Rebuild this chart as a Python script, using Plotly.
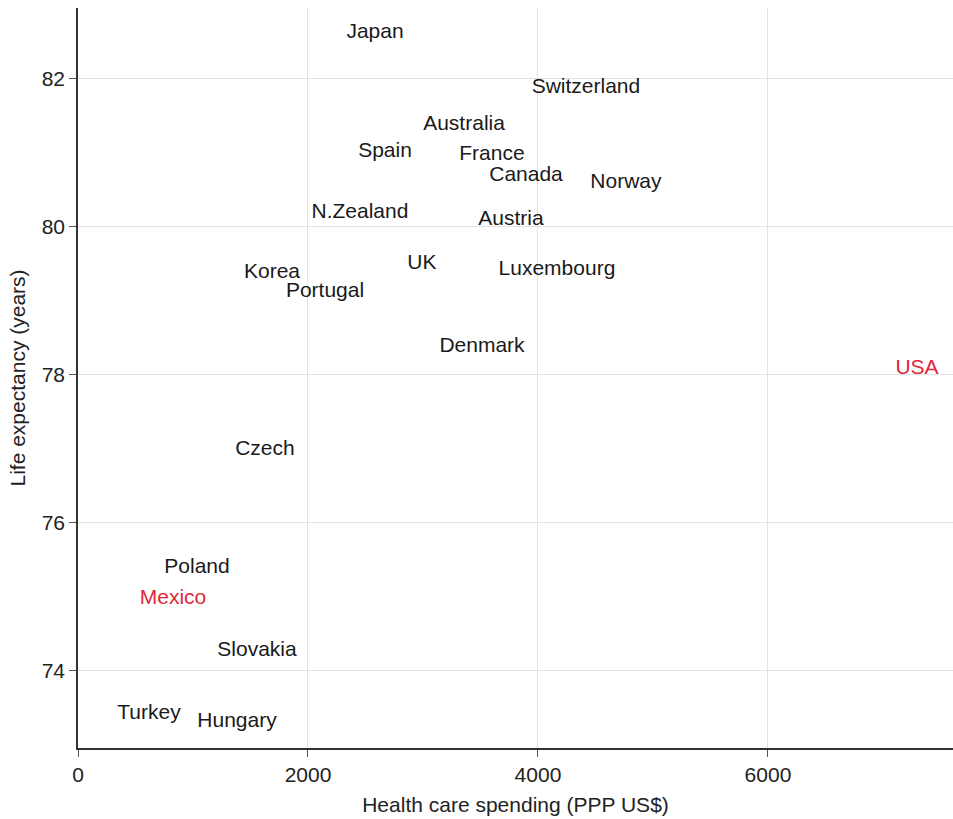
import plotly.graph_objects as go

countries = ["Japan", "Switzerland", "Australia", "Spain", "France", "Canada", "Norway",
             "N.Zealand", "Austria", "UK", "Luxembourg", "Korea", "Portugal", "Denmark",
             "USA", "Czech", "Poland", "Mexico", "Slovakia", "Turkey", "Hungary"]
spending = [2583, 4417, 3357, 2670, 3600, 3896, 4765,
            2452, 3765, 2991, 4165, 1687, 2148, 3513,
            7296, 1626, 1035, 826, 1557, 617, 1383]
life_exp = [82.61, 81.88, 81.38, 81.01, 80.97, 80.68, 80.59,
            80.18, 80.09, 79.50, 79.41, 79.38, 79.12, 78.38,
            78.08, 76.99, 75.39, 74.97, 74.27, 73.42, 73.32]
highlight = ["USA", "Mexico"]

FONT = "Liberation Sans, Arial, sans-serif"
colors = ["#e0283a" if c in highlight else "#1a1a1a" for c in countries]

fig = go.Figure(go.Scatter(
    x=spending, y=life_exp, text=countries, mode="text",
    textposition="middle center",
    textfont=dict(family=FONT, size=21, color=colors),
    hoverinfo="text", showlegend=False,
))

axis_common = dict(
    showgrid=True, gridcolor="#e3e3e3", gridwidth=1,
    showline=True, linecolor="#333333", linewidth=1.5,
    ticks="outside", ticklen=7, tickcolor="#555555",
    tickfont=dict(family=FONT, size=21, color="#222222"),
    zeroline=False,
)

fig.update_layout(
    width=953, height=819,
    margin=dict(l=78, r=0, t=8, b=71),
    paper_bgcolor="white", plot_bgcolor="white",
    font=dict(family=FONT, color="#222222"),
    xaxis=dict(range=[0, 7609], tickvals=[0, 2000, 4000, 6000],
               title=dict(text="Health care spending (PPP US$)", font=dict(size=21), standoff=12),
               **axis_common),
    yaxis=dict(range=[72.96, 82.95], tickvals=[74, 76, 78, 80, 82],
               title=dict(text="Life expectancy (years)", font=dict(size=21), standoff=10),
               **axis_common),
)

fig.write_html("out.html",
               config={"displayModeBar": False},
               post_script="document.body.style.margin='0';document.body.style.overflow='hidden';")
